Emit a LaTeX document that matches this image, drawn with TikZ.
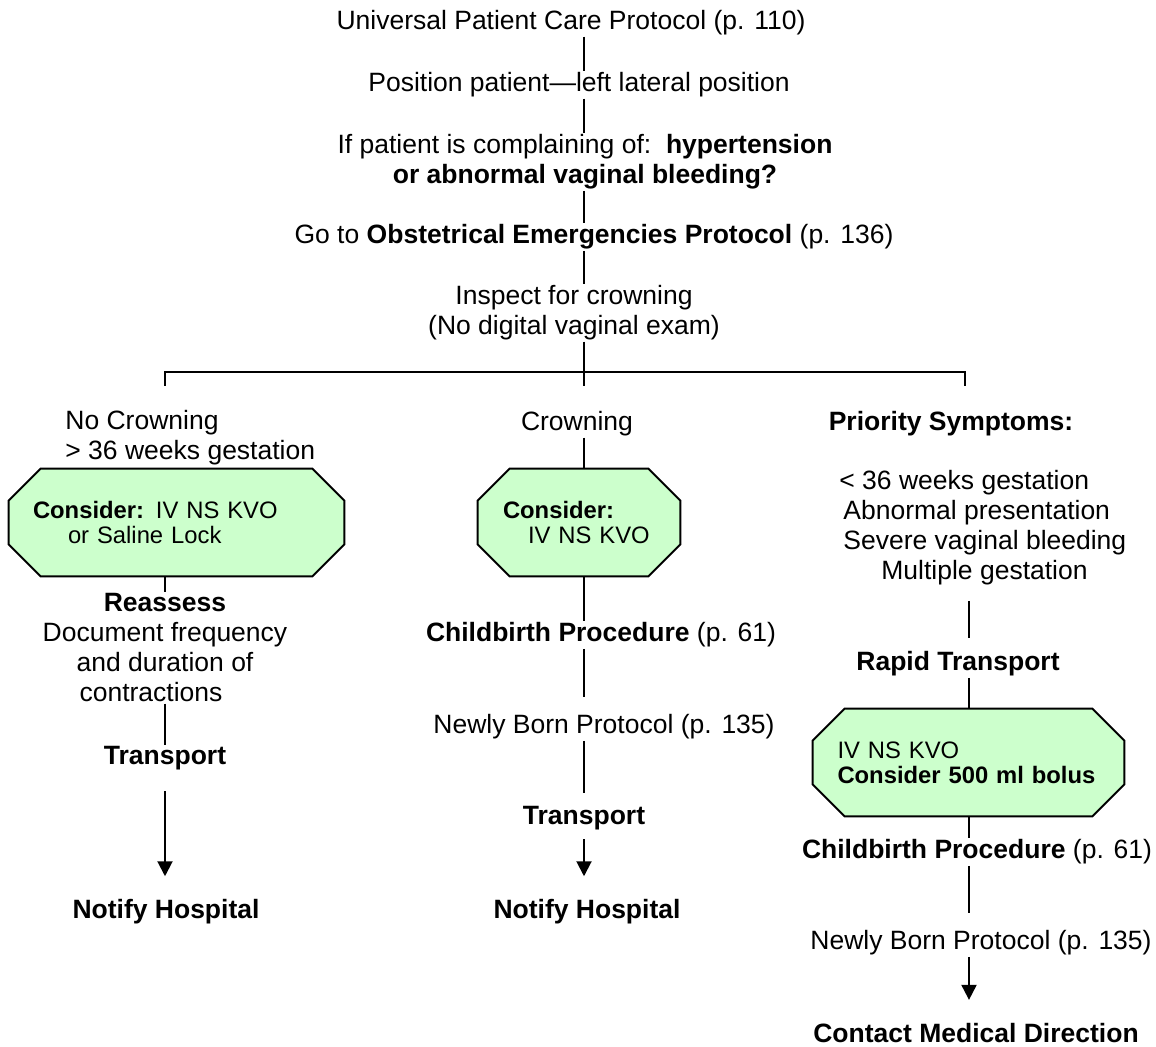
\documentclass[tikz,border=0pt]{standalone}
\usepackage{fontspec}
\setmainfont{Liberation Sans}
\usepackage{tikz}
\usetikzlibrary{arrows.meta,backgrounds}

\definecolor{boxgreen}{RGB}{204,255,204}

\begin{document}
\begin{tikzpicture}[x=0.5pt, y=-0.5pt, font=\fontsize{13.25}{15}\selectfont,
  txt/.style={inner sep=0.5pt, align=center},
  lft/.style={inner sep=0.5pt, align=left, anchor=west},
  octbox/.style={inner sep=0pt, align=left, minimum height=53.5pt,
    font=\fontsize{11.9}{12.5}\selectfont},
  octline/.style={draw=black, line width=1pt, fill=boxgreen, line join=miter},
  conn/.style={line width=1pt},
  arr/.style={line width=1pt, -{Triangle[length=7.5pt,width=7.5pt]}}]

\useasboundingbox (0,0) rectangle (1156,1047);

% column axes
\coordinate (colL) at (165,0);
\coordinate (colM) at (584,0);
\coordinate (colR) at (969,0);

% ---------- common trunk ----------
\node[txt] (univ) at (571,23)  {Universal Patient Care Protocol (p. 110)};
\node[txt] (pos)  at (579,85)  {Position patient---left lateral position};
\node[txt] (cmpl) at (585,162) {If patient is complaining of:\ \ \textbf{hypertension}\\
  \textbf{or abnormal vaginal bleeding?}};
\node[txt] (obst) at (594,237) {Go to \textbf{Obstetrical Emergencies Protocol} (p. 136)};
\node[txt] (insp) at (574,313) {Inspect for crowning\\(No digital vaginal exam)};
\foreach \a/\b in {univ/pos, pos/cmpl, cmpl/obst, obst/insp}
  \draw[conn] (\a.south -| colM) -- (\b.north -| colM);

% split into three branches
\coordinate (split) at (584,372);
\coordinate (brL) at (165,372);
\coordinate (brR) at (965,372);
\coordinate (tkL) at (165,386);
\coordinate (tkM) at (584,386);
\coordinate (tkR) at (965,386);
\draw[conn] (insp.south -| colM) -- (split) -- (tkM);
\draw[conn] (tkL) -- (brL) -- (brR) -- (tkR);

% ---------- no crowning ----------
\node[lft] (nocr) at (64,438) {No Crowning\\> 36 weeks gestation};
\node[octbox, minimum width=167.5pt, text width=143.5pt] (oc1) at (176.5,522.5)
  {\textbf{Consider:} IV NS KVO\\\hspace*{17.5pt}or Saline Lock};
\node[txt] (reas) at (165,648) {\textbf{Reassess}\\Document frequency\\
  and duration of\hspace*{12pt}\\contractions\hspace*{14pt}};
\node[txt] (trL)  at (165,758) {\textbf{Transport}};
\node[txt] (notL) at (166,912) {\textbf{Notify Hospital}};
\draw[conn] (oc1.south -| colL) -- (reas.north -| colL);
\draw[conn] (reas.south -| colL) -- (trL.north -| colL);
\draw[arr, shorten <=10pt, shorten >=11pt] (trL.south -| colL) -- (notL.north -| colL);

% ---------- crowning ----------
\node[txt] (crow) at (577,424) {Crowning};
\node[octbox, minimum width=101pt, text width=76pt] (oc2) at (579,522.5)
  {\textbf{Consider:}\\\hspace*{12.5pt}IV NS KVO};
\node[txt] (cbM)  at (601,635) {\textbf{Childbirth Procedure} (p. 61)};
\node[txt] (nbM)  at (604,727) {Newly Born Protocol (p. 135)};
\node[txt] (trM)  at (584,818) {\textbf{Transport}};
\node[txt] (notM) at (587,912) {\textbf{Notify Hospital}};
\draw[conn] (crow.south -| colM) -- (oc2.north -| colM);
\draw[conn] (oc2.south -| colM) -- (cbM.north -| colM);
\draw[conn, shorten >=8pt] (cbM.south -| colM) -- (nbM.north -| colM);
\draw[conn, shorten >=6pt] (nbM.south -| colM) -- (trM.north -| colM);
\draw[arr, shorten <=4pt, shorten >=11pt] (trM.south -| colM) -- (notM.north -| colM);

% ---------- priority symptoms ----------
\node[txt] (prio) at (951,424) {\textbf{Priority Symptoms:}};
\node[lft] (symp) at (838,528) {< 36 weeks gestation\\
  \hspace*{2pt}Abnormal presentation\\
  \hspace*{2pt}Severe vaginal bleeding\\
  \hspace*{21pt}Multiple gestation};
\node[txt] (rapid) at (958,664) {\textbf{Rapid Transport}};
\node[octbox, minimum width=155.5pt, text width=131pt] (oc3) at (968.5,762.5)
  {IV NS KVO\\\textbf{Consider 500 ml bolus}};
\node[txt] (cbR)  at (977,852)  {\textbf{Childbirth Procedure} (p. 61)};
\node[txt] (nbR)  at (981,943)  {Newly Born Protocol (p. 135)};
\node[txt] (cmd)  at (976,1033) {\textbf{Contact Medical Direction}};
\draw[conn, shorten <=7pt, shorten >=6pt] (symp.south -| colR) -- (rapid.north -| colR);
\draw[conn] (rapid.south -| colR) -- (oc3.north -| colR);
\draw[conn] (oc3.south -| colR) -- (cbR.north -| colR);
\draw[conn, shorten >=8pt] (cbR.south -| colR) -- (nbR.north -| colR);
\draw[arr, shorten >=11pt] (nbR.south -| colR) -- (cmd.north -| colR);

% octagon outlines behind the text
\begin{scope}[on background layer]
  \foreach \b in {oc1,oc2,oc3}
    \draw[octline] ([xshift=16pt]\b.north west) -- ([xshift=-16pt]\b.north east)
      -- ([yshift=-16pt]\b.north east) -- ([yshift=16pt]\b.south east)
      -- ([xshift=-16pt]\b.south east) -- ([xshift=16pt]\b.south west)
      -- ([yshift=16pt]\b.south west) -- ([yshift=-16pt]\b.north west) -- cycle;
\end{scope}
\end{tikzpicture}
\end{document}
